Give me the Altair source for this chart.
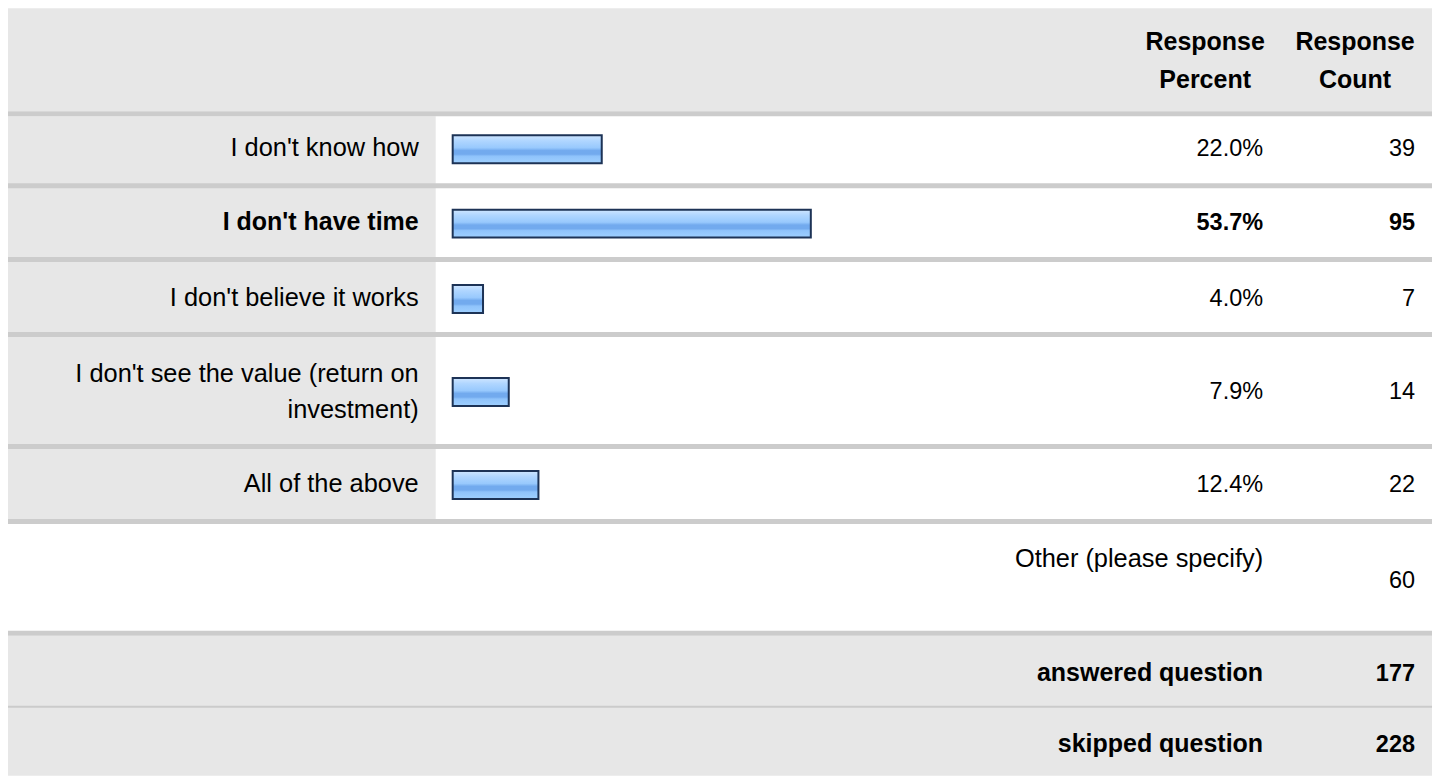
import altair as alt
import pandas as pd

# ---------------- data ----------------
answers = [
    "I don't know how",
    "I don't have time",
    "I don't believe it works",
    "I don't see the value (return on\ninvestment)",
    "All of the above",
]
percents = [22.0, 53.7, 4.0, 7.9, 12.4]
counts = [39, 95, 7, 14, 22]
bold_rows = [False, True, False, False, False]

header_percent = "Response\nPercent"
header_count = "Response\nCount"
other_label = "Other (please specify)"
other_count = 60
summary_labels = ["answered question", "skipped question"]
summary_values = [177, 228]

# ---------------- layout (reference page pixels) ----------------
PAGE_X0, PAGE_X1 = 8, 1433
PAGE_Y0, PAGE_Y1 = 8, 776
W = PAGE_X1 - PAGE_X0
H = PAGE_Y1 - PAGE_Y0

label_right = 419
pct_right = 1264
cnt_right = 1416
pct_head_center = 1206
cnt_head_center = 1356
bar_left = 453          # stroke centre of bar start
bar_px_per_pct = 6.6
bar_min = -0.6          # bar scale starts slightly below zero (minimum bar width)

bar_mid = [149, 223.5, 299, 392, 485]
label_base = [156, 230, 306, 382, 492]
value_base = [156, 230, 306, 399, 492]
bar_half = 14

band_x1 = [4, 4, 4, 4, 4, 4, 4, 4, 4, 4, 4, 4]
band_x2 = [1433, 436, 1433, 1433, 1433, 1433, 1433, 1433, 1433, 1433, 1433, 1433]
band_y1 = [3, 116, 636, 111, 183, 257, 332, 444, 519, 631, 706, 0]
band_y2 = [111, 519, 776, 116, 188, 262, 337, 449, 524, 636, 708, 3]
band_fill = ["#e7e7e7", "#e7e7e7", "#e7e7e7", "#cccccc", "#cccccc", "#cccccc",
             "#cccccc", "#cccccc", "#cccccc", "#cccccc", "#cbcbcb", "#e3e8c6"]

FONT = "Liberation Sans"
FS_TEXT = 25.4
FS_HEAD = 25
FS_NUM = 23.5

# ---------------- tables ----------------
bands = pd.DataFrame({"x1": band_x1, "x2": band_x2, "y1": band_y1, "y2": band_y2, "fill": band_fill})
rows = pd.DataFrame({
    "answer": answers,
    "pct": percents,
    "count": counts,
    "bold": bold_rows,
    "mid": bar_mid,
    "lbase": label_base,
    "vbase": value_base,
})
rows["pct_txt"] = rows["pct"].map(lambda v: f"{v:.1f}%")
rows["cnt_txt"] = rows["count"].astype(str)

yscale = alt.Scale(domain=[PAGE_Y0, PAGE_Y1], range=[0, H], clamp=True)
xscale = alt.Scale(domain=[PAGE_X0, PAGE_X1], range=[0, W], clamp=True)

bg = alt.Chart(bands).mark_rect().encode(
    x=alt.X("x1:Q", scale=xscale, axis=None),
    x2="x2:Q",
    y=alt.Y("y1:Q", scale=yscale, axis=None),
    y2="y2:Q",
    fill=alt.Fill("fill:N", scale=None),
)

gradient = alt.LinearGradient(
    gradient="linear",
    stops=[
        alt.GradientStop(color="#cfe6ff", offset=0),
        alt.GradientStop(color="#b0d6ff", offset=0.2),
        alt.GradientStop(color="#98c9fd", offset=0.45),
        alt.GradientStop(color="#72aaee", offset=0.55),
        alt.GradientStop(color="#72aaee", offset=0.68),
        alt.GradientStop(color="#8fc3fb", offset=0.75),
        alt.GradientStop(color="#9fd0ff", offset=1),
    ],
    x1=0, x2=0, y1=0, y2=1,
)

bar_scale = alt.Scale(
    domain=[bar_min, 100],
    range=[bar_left - PAGE_X0, bar_left - PAGE_X0 + bar_px_per_pct * (100 - bar_min)],
)

bars = alt.Chart(rows).transform_calculate(
    base=str(bar_min), top=f"datum.mid - {bar_half}", bot=f"datum.mid + {bar_half}"
).mark_rect(fill=gradient, stroke="#1d3356", strokeWidth=2).encode(
    x=alt.X("base:Q", scale=bar_scale, axis=None),
    x2="pct:Q",
    y=alt.Y("top:Q", scale=yscale, axis=None),
    y2="bot:Q",
)

def txt(align="right", bold=False, size=FS_TEXT, **kw):
    return dict(align=align, baseline="alphabetic", font=FONT, fontSize=size,
                fontWeight="bold" if bold else "normal", color="#000000",
                lineBreak="\n", **kw)

labels_n = alt.Chart(rows).transform_filter("!datum.bold").mark_text(**txt(lineHeight=36)).encode(
    x=alt.value(label_right - PAGE_X0), y=alt.Y("lbase:Q", scale=yscale, axis=None), text="answer:N")
labels_b = alt.Chart(rows).transform_filter("datum.bold").mark_text(**txt(bold=True, size=FS_HEAD, lineHeight=36)).encode(
    x=alt.value(label_right - PAGE_X0), y=alt.Y("lbase:Q", scale=yscale, axis=None), text="answer:N")

pct_n = alt.Chart(rows).transform_filter("!datum.bold").mark_text(**txt(size=FS_NUM)).encode(
    x=alt.value(pct_right - PAGE_X0), y=alt.Y("vbase:Q", scale=yscale, axis=None), text="pct_txt:N")
pct_b = alt.Chart(rows).transform_filter("datum.bold").mark_text(**txt(bold=True, size=FS_NUM)).encode(
    x=alt.value(pct_right - PAGE_X0), y=alt.Y("vbase:Q", scale=yscale, axis=None), text="pct_txt:N")
cnt_n = alt.Chart(rows).transform_filter("!datum.bold").mark_text(**txt(size=FS_NUM)).encode(
    x=alt.value(cnt_right - PAGE_X0), y=alt.Y("vbase:Q", scale=yscale, axis=None), text="cnt_txt:N")
cnt_b = alt.Chart(rows).transform_filter("datum.bold").mark_text(**txt(bold=True, size=FS_NUM)).encode(
    x=alt.value(cnt_right - PAGE_X0), y=alt.Y("vbase:Q", scale=yscale, axis=None), text="cnt_txt:N")

head = pd.DataFrame({"t": [header_percent, header_count], "xc": [pct_head_center, cnt_head_center], "yb": [50, 50]})
head_txt = alt.Chart(head).mark_text(**txt(align="center", bold=True, size=FS_HEAD, lineHeight=38)).encode(
    x=alt.X("xc:Q", scale=xscale, axis=None), y=alt.Y("yb:Q", scale=yscale, axis=None), text="t:N")

other_lab = pd.DataFrame({"t": [other_label], "xr": [pct_right], "yb": [567]})
other_lab_txt = alt.Chart(other_lab).mark_text(**txt()).encode(
    x=alt.X("xr:Q", scale=xscale, axis=None), y=alt.Y("yb:Q", scale=yscale, axis=None), text="t:N")
other_val = pd.DataFrame({"t": [str(other_count)], "xr": [cnt_right], "yb": [588]})
other_val_txt = alt.Chart(other_val).mark_text(**txt(size=FS_NUM)).encode(
    x=alt.X("xr:Q", scale=xscale, axis=None), y=alt.Y("yb:Q", scale=yscale, axis=None), text="t:N")

summ_lab = pd.DataFrame({"t": summary_labels, "xr": [pct_right, pct_right], "yb": [681, 752]})
summ_lab_txt = alt.Chart(summ_lab).mark_text(**txt(bold=True, size=FS_HEAD)).encode(
    x=alt.X("xr:Q", scale=xscale, axis=None), y=alt.Y("yb:Q", scale=yscale, axis=None), text="t:N")
summ_val = pd.DataFrame({"t": [str(v) for v in summary_values], "xr": [cnt_right, cnt_right], "yb": [681, 752]})
summ_val_txt = alt.Chart(summ_val).mark_text(**txt(bold=True, size=FS_NUM)).encode(
    x=alt.X("xr:Q", scale=xscale, axis=None), y=alt.Y("yb:Q", scale=yscale, axis=None), text="t:N")

chart = alt.layer(
    bg, bars, labels_n, labels_b, pct_n, pct_b, cnt_n, cnt_b, head_txt,
    other_lab_txt, other_val_txt, summ_lab_txt, summ_val_txt
).resolve_scale(x="independent").properties(
    width=W, height=H, padding=0, autosize=alt.AutoSizeParams(type="none")
).configure_view(stroke=None)

chart.save("out.html", embed_options={"renderer": "svg", "actions": False})
